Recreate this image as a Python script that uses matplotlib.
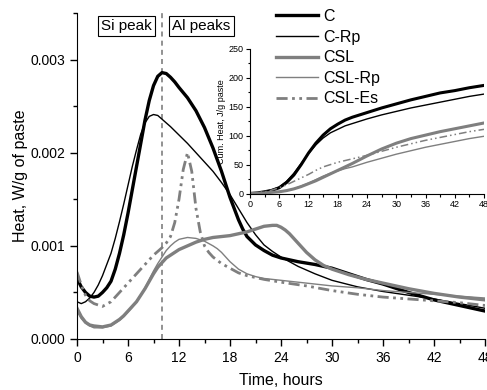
import matplotlib
matplotlib.use("Agg")
import matplotlib.pyplot as plt
from matplotlib.ticker import MultipleLocator, FormatStrFormatter
from matplotlib.lines import Line2D

plt.rcParams['font.family'] = ['Liberation Sans', 'DejaVu Sans']

# ---- main chart data: heat flow (W/g of paste) vs time (hours) ----
t_C = [0, 0.5, 1, 1.5, 2, 2.5, 3, 3.5, 4, 4.5, 5, 5.5, 6, 6.5, 7, 7.5, 8, 8.5, 9, 9.5, 10, 10.5, 11, 11.5, 12, 13, 14, 15, 16, 17, 18, 18.5, 19, 19.5, 20, 21, 22, 23, 24, 26, 28, 30, 32, 34, 36, 39, 42, 45, 48]
C = [0.00065, 0.00056, 0.0005, 0.00046, 0.00045, 0.00046, 0.0005, 0.00055, 0.00062, 0.00075, 0.00092, 0.00112, 0.00135, 0.0016, 0.00185, 0.0021, 0.00235, 0.00256, 0.00272, 0.00282, 0.00286, 0.00285, 0.00281, 0.00276, 0.0027, 0.00259, 0.00245, 0.00227, 0.00205, 0.0018, 0.00152, 0.0014, 0.00128, 0.00118, 0.0011, 0.00101, 0.00095, 0.0009, 0.00087, 0.00083, 0.0008, 0.00076, 0.0007, 0.00064, 0.00059, 0.0005, 0.00042, 0.00036, 0.0003]

t_CRp = [0, 0.5, 1, 1.5, 2, 2.5, 3, 3.5, 4, 4.5, 5, 5.5, 6, 6.5, 7, 7.5, 8, 8.5, 9, 9.5, 10, 11, 12, 13, 14, 15, 16, 17, 18, 19, 20, 21, 22, 23, 24, 26, 28, 30, 33, 36, 39, 42, 45, 48]
C_Rp = [0.0004, 0.00038, 0.0004, 0.00044, 0.0005, 0.00058, 0.00068, 0.0008, 0.00092, 0.00108, 0.00126, 0.00145, 0.00165, 0.00185, 0.00203, 0.0022, 0.00232, 0.00239, 0.00241, 0.0024, 0.00236, 0.00228, 0.00219, 0.0021, 0.002, 0.0019, 0.0018, 0.00168, 0.00155, 0.0014, 0.00125, 0.00112, 0.00101, 0.00094, 0.00088, 0.00078, 0.0007, 0.00063, 0.00056, 0.00051, 0.00047, 0.00043, 0.00038, 0.00033]

t_CSL = [0, 0.5, 1, 1.5, 2, 3, 4, 4.5, 5, 5.5, 6, 6.5, 7, 7.5, 8, 8.5, 9, 9.5, 10, 10.5, 11, 12, 13, 14, 15, 16, 17, 18, 19, 20, 21, 22, 23, 23.5, 24, 24.5, 25, 25.5, 26, 26.5, 27, 28, 29, 30, 32, 34, 36, 39, 42, 45, 48]
CSL = [0.00033, 0.00024, 0.00018, 0.00015, 0.00014, 0.00013, 0.00015, 0.00018, 0.00021, 0.00025, 0.0003, 0.00035, 0.0004, 0.00047, 0.00054, 0.00062, 0.0007, 0.00077, 0.00082, 0.00087, 0.0009, 0.00096, 0.001, 0.00104, 0.00107, 0.00109, 0.0011, 0.00111, 0.00113, 0.00115, 0.00118, 0.00121, 0.00122, 0.00122, 0.0012, 0.00117, 0.00113, 0.00108, 0.00103, 0.00098, 0.00093, 0.00085, 0.00079, 0.00075, 0.00069, 0.00064, 0.0006, 0.00054, 0.00049, 0.00045, 0.00042]

t_CSLRp = [0, 0.5, 1, 1.5, 2, 3, 4, 4.5, 5, 5.5, 6, 6.5, 7, 7.5, 8, 8.5, 9, 9.5, 10, 10.5, 11, 11.5, 12, 13, 14, 15, 16, 16.5, 17, 17.5, 18, 18.5, 19, 20, 21, 22, 24, 26, 28, 30, 33, 36, 39, 42, 45, 48]
CSL_Rp = [0.0003, 0.00022, 0.00017, 0.00014, 0.00012, 0.00012, 0.00014, 0.00017, 0.0002, 0.00024, 0.00029, 0.00034, 0.0004, 0.00047, 0.00055, 0.00064, 0.00073, 0.00081, 0.00088, 0.00095, 0.001, 0.00104, 0.00107, 0.00109, 0.00108, 0.00105, 0.001, 0.00097, 0.00093, 0.00088, 0.00083, 0.00079, 0.00075, 0.0007, 0.00067, 0.00065, 0.00063, 0.00061, 0.00059, 0.00057, 0.00055, 0.00052, 0.0005, 0.00048, 0.00046, 0.00044]

t_CSLEs = [0, 0.5, 1, 1.5, 2, 3, 4, 5, 6, 7, 8, 9, 10, 10.5, 11, 11.5, 12, 12.5, 13, 13.5, 14, 14.5, 15, 15.5, 16, 17, 18, 19, 20, 22, 24, 27, 30, 33, 36, 39, 42, 45, 48]
CSL_Es = [0.00072, 0.00058, 0.00047, 0.00041, 0.00038, 0.00035, 0.0004, 0.0005, 0.0006, 0.0007, 0.0008, 0.0009, 0.00098, 0.00103, 0.0011, 0.00125, 0.0015, 0.00182, 0.002, 0.0018, 0.0014, 0.00115, 0.001, 0.00093, 0.00088, 0.00081, 0.00076, 0.00071, 0.00068, 0.00064, 0.00061, 0.00057, 0.00052, 0.00048, 0.00045, 0.00043, 0.00041, 0.00039, 0.00036]

# ---- inset data: cumulative heat (J/g paste) ----
t_cum_C = [0, 1.5, 3, 4.5, 6, 7.5, 9, 10.5, 12, 13.5, 15, 16.5, 18, 19.5, 21, 24, 27, 30, 33, 36, 39, 42, 45, 48]
cum_C = [0, 1, 3, 5.5, 10, 19, 32, 50, 70, 87, 101, 112, 120, 127, 132, 140, 148, 155, 162, 168, 174, 178, 183, 187]
cum_C_Rp = [0, 1, 3, 6.5, 11, 21, 35, 52, 69, 84, 96, 105, 111, 117, 121, 129, 136, 142, 148, 153, 158, 163, 168, 172]

t_cum_S = [0, 3, 6, 7.5, 9, 10.5, 12, 13.5, 15, 16.5, 18, 19.5, 21, 24, 27, 30, 33, 36, 39, 42, 45, 48]
cum_CSL = [0, 1, 3, 5, 8, 12, 17, 22, 28, 34, 40, 46, 52, 65, 77, 87, 95, 101, 107, 112, 117, 122]
cum_CSL_Rp = [0, 1, 3, 5, 8, 13, 18, 24, 30, 35, 39, 43, 46, 54, 61, 68, 74, 80, 85, 90, 95, 99]

t_cum_E = [0, 1.5, 3, 4.5, 6, 7.5, 9, 10.5, 12, 13.5, 15, 16.5, 18, 21, 24, 27, 30, 33, 36, 39, 42, 45, 48]
cum_CSL_Es = [0, 1.5, 3, 6, 10, 15, 21, 27, 33, 40, 46, 50, 54, 60, 66, 73, 80, 86, 92, 97, 102, 107, 111]

labels = ['C', 'C-Rp', 'CSL', 'CSL-Rp', 'CSL-Es']
x_ticks = [0, 6, 12, 18, 24, 30, 36, 42, 48]

GRAY = '#7f7f7f'
DASHES = (4, 1.6, 1, 1.6, 1, 1.6)

W, H = 487, 390
fig = plt.figure(figsize=(W / 100, H / 100), dpi=100)
ax = fig.add_axes([77 / W, 1 - 339 / H, (485 - 77) / W, (339 - 13) / H])

styles = [
    dict(color='black', lw=2.4),
    dict(color='black', lw=1.0),
    dict(color=GRAY, lw=2.4),
    dict(color=GRAY, lw=1.0),
    dict(color=GRAY, lw=2.0, dashes=DASHES),
]
series = [(t_C, C), (t_CRp, C_Rp), (t_CSL, CSL), (t_CSLRp, CSL_Rp), (t_CSLEs, CSL_Es)]
for (tt, yy), st, lab in zip(series, styles, labels):
    ax.plot(tt, yy, label=lab, solid_joinstyle='round', **st)

ax.axvline(10, color=GRAY, lw=1.2, ls=(0, (3, 2.5)), zorder=0)

ax.set_xlim(0, 48)
ax.set_ylim(0, 0.0035)
ax.set_xticks(x_ticks)
ax.xaxis.set_minor_locator(MultipleLocator(3))
ax.yaxis.set_major_locator(MultipleLocator(0.001))
ax.yaxis.set_minor_locator(MultipleLocator(0.0005))
ax.yaxis.set_major_formatter(FormatStrFormatter('%.3f'))
for s in ['top', 'right']:
    ax.spines[s].set_visible(False)
ax.tick_params(which='both', direction='out', labelsize=10, width=1)
ax.tick_params(which='major', length=5)
ax.tick_params(which='minor', length=3)
ax.set_xlabel('Time, hours', fontsize=11.5, labelpad=6)
ax.set_ylabel('Heat, W/g of paste', fontsize=11.5, labelpad=2)

box = dict(boxstyle='square,pad=0.2', fc='white', ec='black', lw=0.8)
ax.text(126.5, H - 26, 'Si peak', transform=None, fontsize=11, ha='center', va='center', bbox=box)
ax.text(201.5, H - 26, 'Al peaks', transform=None, fontsize=11, ha='center', va='center', bbox=box)

# legend
handles = [Line2D([], [], **st) for st in styles]
fig.legend(handles, labels, loc='upper left', bbox_to_anchor=(276 / W, 1 - 9 / H),
           frameon=False, fontsize=11.5, handlelength=2.6, handletextpad=0.35,
           labelspacing=0.35, borderpad=0, borderaxespad=0)

# inset
axi = fig.add_axes([250 / W, 1 - 193.5 / H, (484 - 250) / W, (193.5 - 49) / H])
istyles = [
    dict(color='black', lw=2.2),
    dict(color='black', lw=1.0),
    dict(color=GRAY, lw=2.2),
    dict(color=GRAY, lw=1.0),
    dict(color=GRAY, lw=1.1, dashes=(5, 2, 1, 2, 1, 2)),
]
icum = [(t_cum_C, cum_C), (t_cum_C, cum_C_Rp), (t_cum_S, cum_CSL), (t_cum_S, cum_CSL_Rp), (t_cum_E, cum_CSL_Es)]
for (tt, yy), st in zip(icum, istyles):
    axi.plot(tt, yy, solid_joinstyle='round', **st)
axi.set_xlim(0, 48)
axi.set_ylim(0, 250)
axi.set_xticks(x_ticks)
axi.xaxis.set_minor_locator(MultipleLocator(3))
axi.yaxis.set_major_locator(MultipleLocator(50))
axi.yaxis.set_minor_locator(MultipleLocator(25))
for s in ['top', 'right']:
    axi.spines[s].set_visible(False)
axi.patch.set_alpha(0)
axi.tick_params(which='both', direction='out', labelsize=6.5, width=0.8, pad=1.5)
axi.tick_params(which='major', length=3)
axi.tick_params(which='minor', length=1.8)
axi.set_ylabel('Cum. Heat, J/g paste', fontsize=6.5, labelpad=2)

fig.savefig('out.png', dpi=100)
